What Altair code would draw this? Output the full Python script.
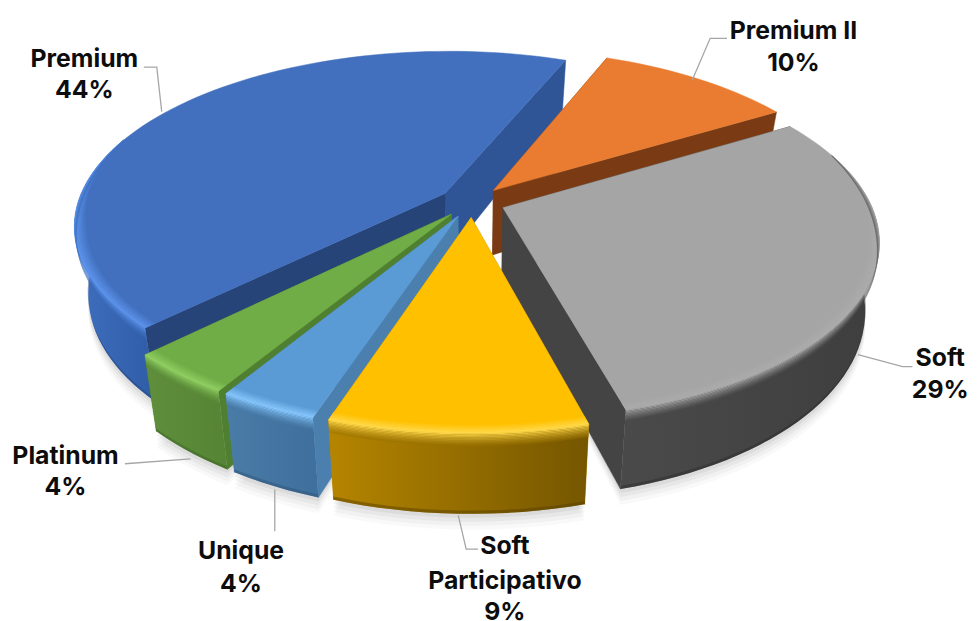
import math
import altair as alt
import pandas as pd

# ---- data (shares estimated to one decimal, shown rounded)
categories = ["Premium", "Premium II", "Soft", "Soft Participativo", "Unique", "Platinum"]
shares = [43.5, 10.3, 29.4, 9.3, 3.6, 3.9]
top_colors = ["#4270BE", "#E97C30", "#A5A5A5", "#FFC000", "#5B9BD5", "#70AD47"]
rim_colors = ["#5C92EA", "#E97C30", "#ABABAB", "#FFD84A", "#84C4FA", "#8FCE62"]
wall_left = ["#3F6FBF", "#7A3B14", "#4A4A4A", "#B58500", "#4A7CA8", "#5F8F3C"]
wall_right = ["#2F5CA6", "#7A3B14", "#3E3E3E", "#755600", "#3F6F9C", "#558534"]
cut_start = ["#2F5597", "#7A3B14", "#444444", "#B58500", "#4A7FAE", "#4F7F30"]
cut_end = ["#264478", "#7A3B14", "#444444", "#B58500", "#4A7FAE", "#4F7F30"]
draw_order = [0, 1, 2, 5, 4, 3]

label_lines = [
    ("Premium", 85, 57), ("44%", 85, 88),
    ("Premium II", 800, 29), ("10%", 800, 61),
    ("Soft", 948, 358), ("29%", 948, 391),
    ("Platinum", 66, 457), ("4%", 66, 489),
    ("Unique", 243, 553), ("4%", 243, 586),
    ("Soft", 509, 548), ("Participativo", 509, 583), ("9%", 509, 615),
]
leaders = [
    [(145, 65), (158, 65), (163, 110)],
    [(733, 36), (716, 36), (698, 78)],
    [(920, 367), (910, 367), (865, 355)],
    [(126, 465), (192, 460)],
    [(277, 533), (277, 491)],
    [(482, 551), (470, 551), (462, 517)],
]

# ---- view of the tilted, exploded pie
CX, CY, RX, RY, P = 476, 201, 370, 172, 0.18
START, EXPLODE, BAND = 68.0, 0.09, 0.03


def project(x, y, z=0.0):
    d = 1 + P * y
    px = CX + RX * x / d
    py = CY - RY * y / d
    depth = (66 - 14 * y) * z
    return CX + (px - CX) * (1 - 0.035 * z), py + depth


def arc_angles(a0, a1, step=2.0):
    n = max(2, int(abs(a1 - a0) / step))
    return [a0 + (a1 - a0) * i / n for i in range(n + 1)]


layers = []
X_ENC = alt.X("x:Q", scale=alt.Scale(domain=[8, 978]), axis=None)
Y_ENC = alt.Y("y:Q", scale=alt.Scale(domain=[621, 8]), axis=None)


def poly(points, **mark):
    df = pd.DataFrame({"x": [p[0] for p in points] + [points[0][0]],
                       "y": [p[1] for p in points] + [points[0][1]]})
    df["i"] = range(len(df))
    mark.setdefault("strokeWidth", 0)
    layers.append(alt.Chart(df).mark_line(**mark).encode(x=X_ENC, y=Y_ENC, order="i:Q"))


def mix(c1, c2, t):
    a = [int(c1[i:i + 2], 16) for i in (1, 3, 5)]
    b = [int(c2[i:i + 2], 16) for i in (1, 3, 5)]
    return "#" + "".join(f"{round(u + (v - u) * t):02x}" for u, v in zip(a, b))


# slice angles from the shares
angles = {}
a = START
angles[0] = (a, a + shares[0] * 3.6)
for i in [1, 2, 3, 4, 5]:
    angles[i] = (a - shares[i] * 3.6, a)
    a -= shares[i] * 3.6


def slice_geom(i):
    a0, a1 = angles[i]
    mid = math.radians((a0 + a1) / 2)
    ox, oy = EXPLODE * math.cos(mid), EXPLODE * math.sin(mid)

    def pt(ang, r=1.0, z=0.0):
        t = math.radians(ang)
        return project(ox + r * math.cos(t), oy + r * math.sin(t), z)

    apex = lambda z=0.0: project(ox, oy, z)
    return a0, a1, pt, apex


def taper(t):
    return max(0.0, min(1.0, (0.35 - math.sin(math.radians(t))) / 0.55))


# soft ground shadow
for k, op in [(16, 0.025), (12, 0.03), (8, 0.04), (4, 0.05)]:
    for i in draw_order:
        a0, a1, pt, apex = slice_geom(i)
        arc = [t for t in arc_angles(a0, a1) if math.sin(math.radians(t)) < 0.1]
        if len(arc) > 1:
            pts = [apex(1)] + [(x, y + k) for x, y in [pt(t, 1.0, 1) for t in arc]]
            poly(pts, fill="#000000", fillOpacity=op)

for i in draw_order:
    a0, a1, pt, apex = slice_geom(i)
    ang = arc_angles(a0, a1)
    # straight cut faces
    poly([apex(0), pt(a0), pt(a0, 1, 1), apex(1)], fill=cut_start[i], stroke=cut_start[i], strokeWidth=0.5)
    poly([apex(0), pt(a1), pt(a1, 1, 1), apex(1)], fill=cut_end[i], stroke=cut_end[i], strokeWidth=0.5)
    # outer wall, only where it faces the viewer, horizontal shading
    grad = alt.LinearGradient(
        gradient="linear", x1=0, x2=1, y1=0, y2=0,
        stops=[alt.GradientStop(offset=0, color=wall_left[i]),
               alt.GradientStop(offset=1, color=wall_right[i])],
    )
    seen = [t for t in ang if math.sin(math.radians(t)) < 0.1]
    if len(seen) > 1:
        poly([pt(t) for t in seen] + [pt(t, 1, 1) for t in reversed(seen)], fill=grad)
        # dark lower lip of the wall
        poly([pt(t, 1, 0.96) for t in seen] + [pt(t, 1, 1) for t in reversed(seen)],
             fill=mix(wall_right[i], "#000000", 0.25), fillOpacity=0.5)
    # top face
    poly([apex(0)] + [pt(t) for t in ang], fill=top_colors[i], stroke=top_colors[i], strokeWidth=0.5)
    # rounded rim, tapering off where the edge turns away from the viewer
    front = [t for t in ang if taper(t) > 0]
    if len(front) > 1:
        steps = 5
        for n in range(steps):
            u0, u1 = 1 - n / steps, 1 - (n + 1) / steps
            c = mix(top_colors[i], rim_colors[i], (n + 1) / steps)
            poly([pt(t, 1 - BAND * u0 * taper(t)) for t in front]
                 + [pt(t, 1 - BAND * u1 * taper(t)) for t in reversed(front)],
                 fill=c, stroke=c, strokeWidth=0.3)
        base = mix(wall_left[i], wall_right[i], 0.5)
        steps = 9
        zmax = 0.16
        for n in range(steps):
            z0, z1 = zmax * n / steps, zmax * (n + 1) / steps
            c = mix(rim_colors[i], base, (n + 0.5) / steps)
            poly([pt(t, 1, z0 * taper(t)) for t in front]
                 + [pt(t, 1, z1 * taper(t)) for t in reversed(front)],
                 fill=c, fillOpacity=1 - n * 0.07, stroke=c, strokeWidth=0.2, strokeOpacity=0.5)

# leader lines
for pts in leaders:
    df = pd.DataFrame({"x": [p[0] for p in pts], "y": [p[1] for p in pts], "i": range(len(pts))})
    layers.append(alt.Chart(df).mark_line(color="#A6A6A6", strokeWidth=1.3).encode(
        x=X_ENC, y=Y_ENC, order="i:Q"))

# labels
lab = pd.DataFrame(label_lines, columns=["t", "x", "y"])
layers.append(alt.Chart(lab).mark_text(font="Inter", fontWeight="bold", fontSize=25, color="#0D0D0D",
                                       align="center", baseline="middle").encode(
    x=X_ENC, y=Y_ENC, text="t:N"))

chart = alt.layer(*layers).properties(
    width=970, height=613, padding=0,
    autosize=alt.AutoSizeParams(type="none"),
    background="white",
).configure_view(stroke=None)

chart.save("out.html", embed_options={"renderer": "svg", "actions": False})
